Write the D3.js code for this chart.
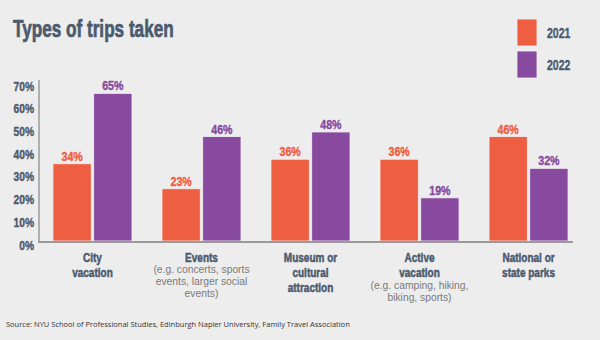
<!DOCTYPE html>
<html>
<head>
<meta charset="utf-8">
<script src="https://cdn.jsdelivr.net/npm/d3@7"></script>
<style>
  body { margin: 0; background: #ededed; }
  .cond { font-family: "Liberation Sans", Arial, sans-serif; font-weight: bold; }
  .sub { font-family: "Liberation Sans", Arial, sans-serif; }
  .src { font-family: "Open Sans", "Noto Sans", sans-serif; }
</style>
</head>
<body>
<div id="chart"></div>
<script>
// Data
let categories = ["City vacation", "Events", "Museum or cultural attraction", "Active vacation", "National or state parks"];
let years = ["2021", "2022"];
let values2021 = [34, 23, 36, 36, 46];
let values2022 = [65, 46, 48, 19, 32];
let yTicks = [0, 10, 20, 30, 40, 50, 60, 70];
// label lines: bold lines then small grey lines
let labelMain = [["City", "vacation"], ["Events"], ["Museum or", "cultural", "attraction"], ["Active", "vacation"], ["National or", "state parks"]];
let labelSub = [[], ["(e.g. concerts, sports", "events, larger social", "events)"], [], ["(e.g. camping, hiking,", "biking, sports)"], []];

let width = 600;
let height = 340;
let colors = { "2021": "#ee5e41", "2022": "#874a9e" };
let textColor = "#4b5a6d";

let svg = d3.select("#chart")
  .append("svg")
  .attr("width", width)
  .attr("height", height);

svg.append("rect").attr("width", width).attr("height", height).attr("fill", "#ededed");

// no condensed font installed, so squeeze a bold sans horizontally
// and give it a thin stroke so it reads as heavy as the original
function condText(parent, x, y, size, squeeze, anchor, color, weight) {
  return parent.append("text")
    .attr("class", "cond")
    .attr("transform", "translate(" + x + "," + y + ") scale(" + squeeze + ",1)")
    .attr("text-anchor", anchor || "start")
    .attr("font-size", size)
    .attr("fill", color)
    .attr("stroke", color)
    .attr("stroke-width", weight || 0.4);
}

// title
condText(svg, 13, 37, 23.5, 0.73, "start", textColor, 0.7)
  .text("Types of trips taken");

// scales
let xScale = d3.scaleBand()
  .domain(categories)
  .range([39, 582])
  .paddingInner(0.275)
  .paddingOuter(0.128);

let xSub = d3.scaleBand()
  .domain(years)
  .range([0, xScale.bandwidth()])
  .paddingInner(0.06);

let yScale = d3.scaleLinear()
  .domain([0, 70])
  .range([241, 82]);

// y tick labels
let tickG = svg.append("g");
yTicks.forEach(function(t) {
  condText(tickG, 34, yScale(t) + 8.5, 12.8, 0.8, "end", textColor)
    .text(t + "%");
});

// bars
let rows = categories.map((c, i) => ({ cat: c, i: i, vals: [
  { year: "2021", v: values2021[i] },
  { year: "2022", v: values2022[i] }
] }));

let groups = svg.append("g")
  .selectAll("g")
  .data(rows)
  .enter()
  .append("g")
  .attr("transform", d => "translate(" + xScale(d.cat) + ",0)");

groups.selectAll("rect")
  .data(d => d.vals)
  .enter()
  .append("rect")
  .attr("x", d => xSub(d.year))
  .attr("y", d => yScale(d.v))
  .attr("width", xSub.bandwidth())
  .attr("height", d => yScale(0) - yScale(d.v))
  .attr("fill", d => colors[d.year])
  .attr("stroke", "#f4f0f4")
  .attr("stroke-width", 0.8);

groups.each(function(d) {
  let g = d3.select(this);
  d.vals.forEach(function(b) {
    condText(g, xSub(b.year) + xSub.bandwidth() / 2, yScale(b.v) - 3, 12.8, 0.83, "middle", colors[b.year])
      .text(b.v + "%");
  });
});

// axis lines
svg.append("line")
  .attr("x1", 39).attr("x2", 39)
  .attr("y1", 80).attr("y2", 242)
  .attr("stroke", "#9a9a9a").attr("stroke-width", 1.5);
svg.append("line")
  .attr("x1", 38).attr("x2", 573)
  .attr("y1", 242).attr("y2", 242)
  .attr("stroke", "#9a9a9a").attr("stroke-width", 2);

// category labels
rows.forEach(function(d) {
  let cx = xScale(d.cat) + xScale.bandwidth() / 2;
  let y = 261.5;
  labelMain[d.i].forEach(function(line) {
    condText(svg, cx, y, 13, 0.77, "middle", textColor, 0.5)
      .text(line);
    y += 15.3;
  });
  y -= 3.5;
  labelSub[d.i].forEach(function(line) {
    svg.append("text")
      .attr("class", "sub")
      .attr("x", cx)
      .attr("y", y)
      .attr("text-anchor", "middle")
      .attr("font-size", 10.3)
      .attr("fill", "#7a7a7a")
      .text(line);
    y += 12;
  });
});

// legend
let legend = svg.append("g")
  .selectAll("g")
  .data(years)
  .enter()
  .append("g")
  .attr("transform", (d, i) => "translate(517," + (19 + i * 32) + ")");

legend.append("rect")
  .attr("width", 20)
  .attr("height", 27)
  .attr("fill", d => colors[d])
  .attr("stroke", "#f4f0f4")
  .attr("stroke-width", 0.8);

legend.each(function(d) {
  condText(d3.select(this), 30, 18.5, 15, 0.7, "start", textColor)
    .text(d);
});

// source
svg.append("text")
  .attr("class", "src")
  .attr("x", 6)
  .attr("y", 327)
  .attr("font-size", 7.5)
  .attr("fill", "#333")
  .text("Source: NYU School of Professional Studies, Edinburgh Napier University, Family Travel Association");
</script>
</body>
</html>
